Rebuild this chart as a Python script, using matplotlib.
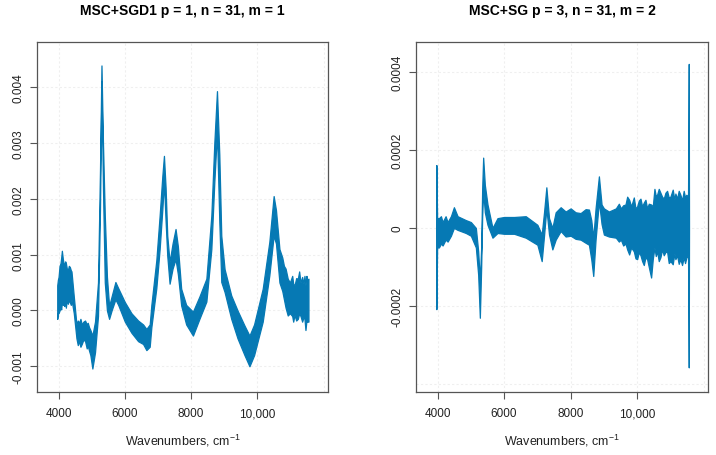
import matplotlib
matplotlib.use("Agg")
import matplotlib.pyplot as plt
import numpy as np

plt.rcParams["font.family"] = ["Liberation Sans", "DejaVu Sans"]
plt.rcParams["mathtext.default"] = "regular"

LINE_COLOR = "#0679B4"

# --- left panel: MSC + SG 1st derivative (envelope of the 31 spectra, x1e-3) ---
x_left = [3960, 3980, 4000, 4030, 4060, 4080, 4100, 4130, 4150, 4170, 4200, 4220, 4250,
          4280, 4310, 4340, 4370, 4390, 4460, 4540, 4580, 4620, 4660, 4700, 4750,
          4800, 4850, 4880, 4920, 4960, 5020, 5100, 5190, 5250, 5295, 5340, 5395,
          5460, 5525, 5600, 5715, 5800, 6000, 6200, 6400, 6550, 6650, 6750, 6800,
          6950, 7050, 7130, 7180, 7230, 7280, 7350, 7440, 7530, 7600, 7700, 7850,
          8055, 8250, 8460, 8610, 8700, 8780, 8850, 8910, 9010, 9210, 9400, 9610,
          9760, 9900, 10160, 10360, 10490, 10560, 10665, 10750, 10800, 10850, 10915,
          10980, 11050, 11080, 11120, 11170, 11220, 11260, 11300, 11350, 11390, 11420,
          11450, 11480, 11500, 11540]
up_left = [0.45, 0.55, 0.60, 0.80, 0.85, 0.95, 1.07, 0.92, 0.85, 0.80, 0.88, 0.85, 0.75,
           0.72, 0.80, 0.78, 0.72, 0.70, 0.25, -0.25, -0.18, -0.22, -0.15, -0.25, -0.20,
           -0.18, -0.25, -0.22, -0.30, -0.35, -0.45, -0.20, 0.50, 2.50, 4.39, 3.00, 1.70,
           0.60, 0.08, 0.25, 0.51, 0.40, 0.15, -0.05, -0.18, -0.25, -0.33, -0.25, 0.10,
           0.90, 1.70, 2.40, 2.77, 2.20, 1.34, 0.87, 1.20, 1.46, 1.15, 0.39, 0.10,
           -0.02, 0.25, 0.57, 1.70, 3.00, 3.93, 2.80, 1.34, 0.74, 0.27, 0.00, -0.27,
           -0.45, -0.25, 0.39, 1.23, 2.05, 1.80, 1.10, 0.95, 0.80, 0.75, 0.57,
           0.50, 0.62, 0.48, 0.45, 0.58, 0.57, 0.70, 0.50, 0.60, 0.48, 0.62,
           0.45, 0.62, 0.55, 0.57]
lo_left = [-0.15, -0.05, -0.05, 0.00, 0.05, 0.02, 0.15, 0.10, 0.12, 0.08, 0.15, 0.05, 0.20,
           0.12, 0.18, 0.15, 0.10, 0.20, -0.05, -0.50, -0.62, -0.55, -0.65, -0.60, -0.52,
           -0.55, -0.68, -0.63, -0.72, -0.80, -1.04, -0.75, -0.10, 1.80, 4.10, 2.20, 0.50,
           0.00, -0.15, 0.00, 0.20, 0.10, -0.20, -0.40, -0.55, -0.60, -0.71, -0.65, -0.30,
           0.40, 1.10, 1.80, 2.30, 1.60, 0.98, 0.48, 0.75, 0.92, 0.65, 0.09, -0.25,
           -0.45, -0.15, 0.16, 1.10, 2.30, 3.20, 1.60, 0.51, 0.33, -0.15, -0.50, -0.80,
           -1.00, -0.80, -0.20, 0.63, 1.34, 1.20, 0.50, 0.35, 0.20, 0.05, -0.09,
           -0.05, -0.10, -0.20, -0.08, -0.18, -0.15, -0.05, -0.10, -0.20, -0.12, -0.15,
           -0.35, -0.18, -0.20, -0.20]

# --- right panel: MSC + SG 2nd derivative (envelope, x1e-4) ---
x_right = [3955, 3962, 3985, 4040, 4100, 4150, 4240, 4300, 4400, 4490, 4600, 4850, 5000,
           5150, 5220, 5270, 5310, 5340, 5370, 5420, 5500, 5650, 5800, 6000, 6300,
           6650, 7000, 7130, 7200, 7270, 7350, 7450, 7550, 7700, 7850, 8000, 8150,
           8300, 8450, 8550, 8620, 8680, 8750, 8850, 8930, 9000, 9150, 9360, 9450,
           9510, 9580, 9650, 9700, 9760, 9820, 9900, 9950, 10000, 10050, 10100, 10150,
           10200, 10250, 10300, 10350, 10420, 10470, 10520, 10560, 10600, 10650, 10700,
           10750, 10800, 10850, 10900, 10950, 11000, 11070, 11120, 11150, 11200, 11250,
           11300, 11350, 11400, 11440, 11480, 11530, 11552, 11560]
up_right = [0.0, 1.61, 0.25, 0.25, 0.30, 0.15, 0.30, 0.15, 0.30, 0.53, 0.30, 0.20, 0.15,
            0.00, -0.60, -1.35, -0.50, 1.00, 1.80, 1.10, 0.60, 0.00, 0.25, 0.28, 0.28,
            0.30, 0.08, -0.17, 0.40, 1.04, 0.25, 0.00, 0.40, 0.53, 0.42, 0.50, 0.40,
            0.38, 0.48, 0.47, 0.20, -0.25, 0.50, 1.32, 0.60, 0.50, 0.42, 0.50, 0.62,
            0.50, 0.58, 0.60, 0.80, 0.72, 0.55, 0.78, 0.50, 0.55, 0.70, 0.75, 0.55,
            0.65, 0.72, 0.50, 0.62, 0.60, 0.55, 1.00, 0.82, 0.85, 1.00, 0.90,
            0.80, 0.75, 0.90, 0.95, 0.78, 0.80, 0.98, 0.72, 0.88, 0.75, 0.95,
            0.85, 0.70, 0.95, 0.78, 0.85, 0.80, 4.20, 0.0]
lo_right = [0.0, -2.08, -0.50, -0.50, -0.40, -0.45, -0.30, -0.35, -0.20, 0.00, -0.05, -0.13, -0.20,
            -0.50, -1.20, -2.30, -1.00, 0.30, 0.94, 0.40, 0.08, -0.25, -0.13, -0.15, -0.15,
            -0.25, -0.43, -0.85, -0.20, 0.50, -0.17, -0.55, -0.30, -0.08, -0.22, -0.20, -0.28,
            -0.30, -0.38, -0.43, -0.80, -1.23, -0.30, 0.68, 0.10, -0.17, -0.22, -0.25, -0.35,
            -0.30, -0.45, -0.40, -0.55, -0.68, -0.50, -0.60, -0.78, -0.80, -0.62, -0.70, -0.85,
            -0.95, -0.75, -0.80, -1.00, -1.27, -0.80, -0.50, -0.72, -0.60, -0.85, -0.75,
            -0.55, -0.70, -0.62, -0.60, -0.90, -0.85, -0.93, -0.65, -0.80, -0.70, -0.92,
            -0.80, -0.95, -0.75, -0.90, -0.76, -0.70, -3.57, 0.0]

panels = [
    dict(x=x_left, up=np.array(up_left) * 1e-3, lo=np.array(lo_left) * 1e-3,
         title="MSC+SGD1 p = 1, n = 31, m = 1",
         ylim=(-0.00146, 0.00481),
         yticks=[-0.001, 0.0, 0.001, 0.002, 0.003, 0.004],
         ylabels=["-0.001", "0.000", "0.001", "0.002", "0.003", "0.004"],
         ygrid=[-0.001, 0.0, 0.001, 0.002, 0.003, 0.004],
         pos=[0.0517, 0.1382, 0.4064, 0.7675]),
    dict(x=x_right, up=np.array(up_right) * 1e-4, lo=np.array(lo_right) * 1e-4,
         title="MSC+SG p = 3, n = 31, m = 2",
         ylim=(-0.00042, 0.000476),
         yticks=[-0.0002, 0.0, 0.0002, 0.0004],
         ylabels=["-0.0002", "0", "0.0002", "0.0004"],
         ygrid=[-0.0004, -0.0002, 0.0, 0.0002, 0.0004],
         pos=[0.581, 0.1382, 0.4078, 0.7675]),
]

xticks = [4000, 6000, 8000, 10000]
xticklabels = ["4000", "6000", "8000", "10,000"]

fig = plt.figure(figsize=(7.16, 4.56), dpi=100)

for p in panels:
    ax = fig.add_axes(p["pos"])
    # faint dotted grid, like R's grid()
    for gx in [4000, 6000, 8000, 10000, 12000]:
        ax.axvline(gx, color="#efefef", linestyle=(0, (2, 2)), linewidth=0.8, zorder=0)
    for gy in p["ygrid"]:
        ax.axhline(gy, color="#efefef", linestyle=(0, (2, 2)), linewidth=0.8, zorder=0)

    ax.fill_between(p["x"], p["lo"], p["up"], color=LINE_COLOR,
                    edgecolor=LINE_COLOR, linewidth=0.9, zorder=2)

    ax.set_xlim(3350, 12130)
    ax.set_ylim(*p["ylim"])
    ax.set_xticks(xticks)
    ax.set_xticklabels(xticklabels)
    ax.set_yticks(p["yticks"])
    ax.set_yticklabels(p["ylabels"], rotation=90, va="center")
    ax.tick_params(axis="both", labelsize=8.5, color="#555555", length=5,
                   width=0.8, labelcolor="#222222")
    ax.tick_params(axis="x", pad=6)
    ax.tick_params(axis="y", pad=4)
    for s in ax.spines.values():
        s.set_color("#555555")
        s.set_linewidth(0.9)
    ax.set_xlabel("Wavenumbers, cm$^{-1}$", fontsize=9, color="#222222", labelpad=9)
    ax.set_title(p["title"], fontsize=10, fontweight="bold", pad=20)

fig.savefig("out.png", dpi=100)
